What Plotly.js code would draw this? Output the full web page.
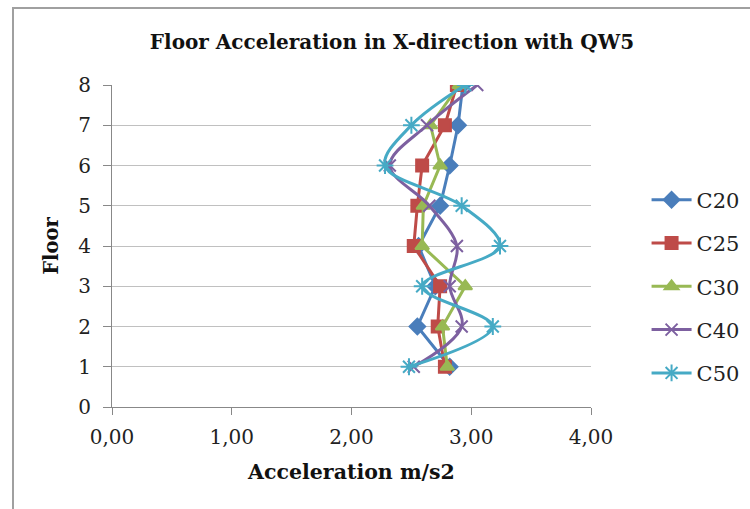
<!DOCTYPE html>
<html>
<head>
<meta charset="utf-8">
<script src="https://cdn.plot.ly/plotly-3.0.1.min.js"></script>
<style>html,body{margin:0;padding:0;background:#fff;}#chart{width:750px;height:509px;}</style>
</head>
<body>
<div id="chart"></div>
<script>
const floors = [1, 2, 3, 4, 5, 6, 7, 8];
const c20 = [2.82, 2.55, 2.70, 2.56, 2.74, 2.82, 2.89, 2.93];
const c25 = [2.78, 2.72, 2.74, 2.52, 2.55, 2.59, 2.78, 2.88];
const c30 = [2.80, 2.76, 2.95, 2.59, 2.60, 2.74, 2.66, 2.90];
const c40 = [2.52, 2.92, 2.82, 2.88, 2.65, 2.32, 2.63, 3.05];
const c50 = [2.48, 3.18, 2.59, 3.24, 2.92, 2.28, 2.50, 2.95];
const seriesNames = ['C20', 'C25', 'C30', 'C40', 'C50'];
const xTicks = [0, 1, 2, 3, 4];
const yTicks = [0, 1, 2, 3, 4, 5, 6, 7, 8];

const serif = 'DejaVu Serif, Liberation Serif, serif';
const styles = [
  {color: '#4A7EBB', symbol: 'diamond', size: 12, shape: 'linear'},
  {color: '#BE4B48', symbol: 'square', size: 12, shape: 'linear'},
  {color: '#98B954', symbol: 'triangle-up', size: 12, shape: 'linear'},
  {color: '#7D60A0', symbol: 'x-thin-open', size: 12, shape: 'spline'},
  {color: '#46AAC5', symbol: 'asterisk-open', size: 14, shape: 'spline'}
];
const data = [c20, c25, c30, c40, c50].map((vals, i) => ({
  type: 'scatter', mode: 'lines+markers', name: seriesNames[i],
  x: vals, y: floors, legendgroup: seriesNames[i],
  line: {color: styles[i].color, width: 3, shape: styles[i].shape, smoothing: 1},
  marker: {symbol: styles[i].symbol, size: styles[i].size, color: styles[i].color,
           line: {color: styles[i].color, width: 2}}
}));

const layout = {
  width: 750, height: 509,
  margin: {l: 112, r: 159, t: 85, b: 102, autoexpand: false},
  paper_bgcolor: '#fff', plot_bgcolor: '#fff',
  separators: ',.',
  font: {family: serif, color: '#222', size: 16},
  title: {text: '<b>Floor Acceleration in X-direction with QW5</b>', x: 392/750, xref: 'container', xanchor: 'center',
          y: 1 - 42/509, yref: 'container', yanchor: 'middle', font: {family: serif, size: 20, color: '#111'}},
  xaxis: {range: [0, 4], tickvals: xTicks, tickformat: '.2f', showgrid: false, zeroline: false,
          showline: true, linecolor: '#888', linewidth: 1, ticks: 'outside', ticklen: 7, tickcolor: '#888',
          ticklabelstandoff: 5,
          tickfont: {family: serif, size: 20, color: '#222'},
          title: {text: '<b>Acceleration m/s2</b>', font: {family: serif, size: 20.5, color: '#111'}, standoff: 16}},
  yaxis: {range: [0, 8], tickvals: yTicks, showgrid: true, gridcolor: '#C0C0C0', gridwidth: 1, zeroline: false,
          showline: true, linecolor: '#888', linewidth: 1, ticks: 'outside', ticklen: 8, tickcolor: '#888',
          ticklabelstandoff: 8,
          tickfont: {family: serif, size: 20, color: '#222'},
          title: {text: '<b>Floor</b>', font: {family: serif, size: 19.5, color: '#111'}, standoff: 14}},
  legend: {x: 1.116, xanchor: 'left', y: 0.374, yanchor: 'middle', tracegroupgap: 13,
           font: {family: serif, size: 21, color: '#222'}, bgcolor: 'rgba(0,0,0,0)', itemwidth: 40},
  shapes: [{type: 'rect', xref: 'paper', yref: 'paper', x0: -99/479, x1: 1.5, y0: -0.5, y1: 1 + 77/322,
            line: {color: '#A0A0A0', width: 2}, fillcolor: 'rgba(0,0,0,0)', layer: 'below'}],
  showlegend: true
};
Plotly.newPlot('chart', data, layout, {displayModeBar: false, staticPlot: true});
</script>
</body>
</html>
